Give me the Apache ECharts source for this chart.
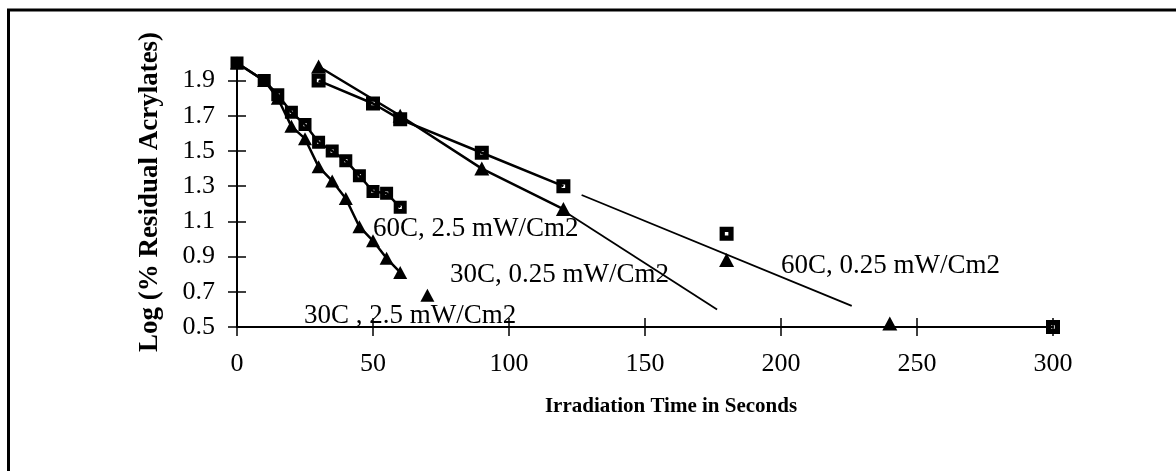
<!DOCTYPE html>
<html>
<head>
<meta charset="utf-8">
<script src="https://cdn.jsdelivr.net/npm/echarts@6.0.0/dist/echarts.min.js"></script>
<style>
html, body { margin: 0; padding: 0; background: #fff; }
#main { width: 1176px; height: 471px; }
</style>
</head>
<body>
<div id="main"></div>
<script>
// irradiation times (s) and log(% residual acrylates)
var timeFast = [0, 10, 15, 20, 25, 30, 35, 40, 45, 50, 55, 60];
var hot25 = [2.0, 1.9, 1.82, 1.72, 1.65, 1.55, 1.50, 1.445, 1.36, 1.27, 1.26, 1.18];
var cold25 = [2.0, 1.9, 1.8, 1.64, 1.57, 1.41, 1.33, 1.23, 1.07, 0.99, 0.89, 0.81];
var cold25Extra = [[70, 0.68]];

var timeHotSlow = [30, 50, 60, 90, 120];
var hot025 = [1.9, 1.77, 1.68, 1.49, 1.30];
var hot025Extra = [[180, 1.03], [300, 0.5]];
var hot025Trend = [[126.7, 1.25], [226, 0.62]];

var timeColdSlow = [30, 60, 90, 120];
var cold025 = [1.98, 1.70, 1.40, 1.17];
var cold025Extra = [[180, 0.88], [240, 0.52]];
var cold025Trend = [[120, 1.16], [176.5, 0.6]];

var xTicks = [0, 50, 100, 150, 200, 250, 300];
var yTicks = [0.5, 0.7, 0.9, 1.1, 1.3, 1.5, 1.7, 1.9];

function pairs(xs, ys) {
	var out = [];
	for (var i = 0; i < xs.length; i++) out.push([xs[i], ys[i]]);
	return out;
}

var serif = '"Liberation Serif", "Times New Roman", serif';
var boxSym = 'path://M0,0H12V12H0Z M4.5,4.5V7.5H7.5V4.5Z';
var triSym = 'triangle';

function pts(name, data, sym, size, withLine, width) {
	return {
		name: name,
		type: 'line',
		data: data,
		symbol: sym,
		symbolSize: size,
		showSymbol: true,
		animation: false,
		itemStyle: { color: '#000', borderWidth: 0 },
		lineStyle: { color: '#000', width: withLine ? width : 0, opacity: withLine ? 1 : 0 },
		z: 3
	};
}

function trend(data) {
	return {
		type: 'line',
		data: data,
		symbol: 'none',
		animation: false,
		lineStyle: { color: '#000', width: 1.8 },
		z: 2
	};
}

function note(text, x, y) {
	return { type: 'text', x: x, y: y, z: 10,
		style: { text: text, font: '27px ' + serif, fill: '#000',
			align: 'left', verticalAlign: 'middle', textAlign: 'left', textVerticalAlign: 'middle' } };
}

var myChart = echarts.init(document.getElementById('main'));
var option = {
	backgroundColor: '#fff',
	animation: false,
	grid: { left: 237, right: 123, top: 63, bottom: 144 },
	xAxis: [{
		type: 'value', min: 0, max: 300, interval: 50,
		axisLine: { lineStyle: { color: '#000', width: 2 } },
		axisTick: { length: 9, customValues: xTicks, lineStyle: { color: '#000', width: 1.5 } },
		axisLabel: { color: '#000', fontFamily: serif, fontSize: 26, margin: 24, customValues: xTicks },
		splitLine: { show: false }
	}, {
		type: 'value', min: 0, max: 300, interval: 50, position: 'bottom',
		axisLine: { show: false },
		axisTick: { inside: true, length: 9, customValues: xTicks, lineStyle: { color: '#000', width: 1.5 } },
		axisLabel: { show: false },
		splitLine: { show: false }
	}],
	yAxis: [{
		type: 'value', min: 0.5, max: 2.0,
		axisLine: { show: true, lineStyle: { color: '#000', width: 2 } },
		axisTick: { show: true, length: 9, customValues: yTicks, lineStyle: { color: '#000', width: 1.5 } },
		axisLabel: { color: '#000', fontFamily: serif, fontSize: 26, margin: 22, customValues: yTicks,
			formatter: function (v) { return v.toFixed(1); } },
		splitLine: { show: false }
	}, {
		type: 'value', min: 0.5, max: 2.0, position: 'left',
		axisLine: { show: false },
		axisTick: { show: true, inside: true, length: 9, customValues: yTicks, lineStyle: { color: '#000', width: 1.5 } },
		axisLabel: { show: false },
		splitLine: { show: false }
	}],
	series: [
		pts('30C, 2.5 mW/Cm2', pairs(timeFast, cold25), triSym, [14, 13], true, 2.5),
		pts('30C, 2.5 mW/Cm2 extra', cold25Extra, triSym, [14, 13], false),
		pts('60C, 2.5 mW/Cm2', pairs(timeFast, hot25), boxSym, 13, true, 2.5),
		trend(hot025Trend),
		trend(cold025Trend),
		pts('30C, 0.25 mW/Cm2', pairs(timeColdSlow, cold025), triSym, [15, 14], true, 2.5),
		pts('30C, 0.25 mW/Cm2 extra', cold025Extra, triSym, [15, 14], false),
		pts('60C, 0.25 mW/Cm2', pairs(timeHotSlow, hot025), boxSym, 14, true, 2.5),
		pts('60C, 0.25 mW/Cm2 extra', hot025Extra, boxSym, 14, false)
	],
	graphic: [
		{ type: 'rect', shape: { x: 8.5, y: 10, width: 1300, height: 600 },
			style: { fill: 'none', stroke: '#000', lineWidth: 3 }, silent: true },
		{ type: 'text', x: 150, y: 192, rotation: Math.PI / 2,
			style: { text: 'Log (% Residual Acrylates)', font: 'bold 27px ' + serif, fill: '#000',
				align: 'center', verticalAlign: 'middle', textAlign: 'center', textVerticalAlign: 'middle' } },
		{ type: 'text', x: 671, y: 407,
			style: { text: 'Irradiation Time in Seconds', font: 'bold 21px ' + serif, fill: '#000',
				align: 'center', verticalAlign: 'middle', textAlign: 'center', textVerticalAlign: 'middle' } },
		note('60C, 2.5 mW/Cm2', 373, 229),
		note('30C, 0.25 mW/Cm2', 450, 275),
		note('60C, 0.25 mW/Cm2', 781, 266),
		note('30C , 2.5 mW/Cm2', 304, 316)
	]
};
myChart.setOption(option);
</script>
</body>
</html>
